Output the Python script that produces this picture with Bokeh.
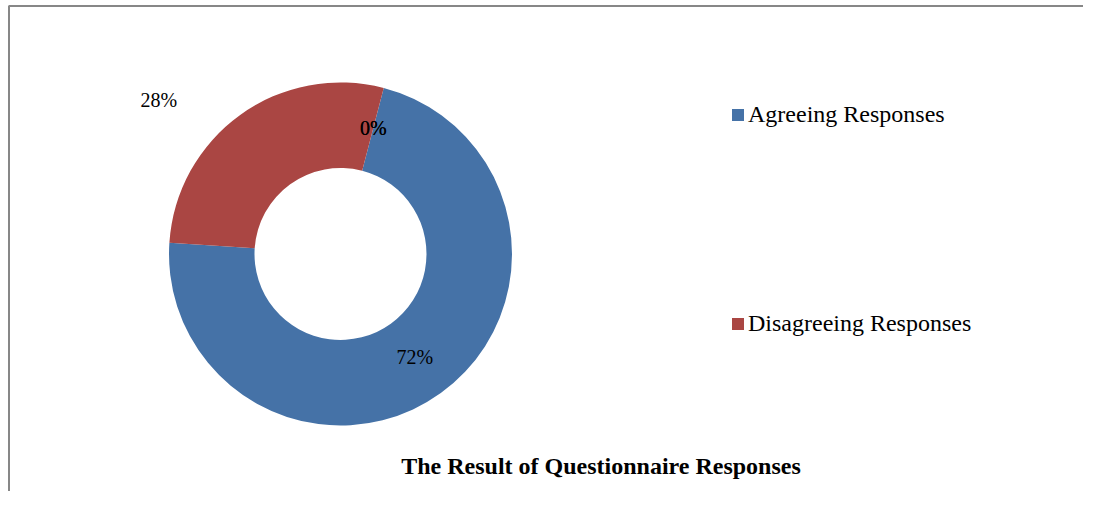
import math
from bokeh.plotting import figure
from bokeh.models import Range1d, Label, Legend, LegendItem, ColumnDataSource, BoxAnnotation
from bokeh.core.properties import value
from bokeh.embed import file_html
from bokeh.resources import INLINE

# ---- data ----
categories = ["Agreeing Responses", "Disagreeing Responses", "", ""]
percents = [72, 28, 0, 0]
colors = ["#4572A7", "#AA4643", "#89A54E", "#80699B"]
legend_count = 2
title_text = "The Result of  Questionnaire Responses"

# ---- layout ----
W, H = 1083, 491
CX, CY = 340, 237.5
R_OUT, R_IN = 171.5, 86
START = 14.6  # degrees clockwise from 12 o'clock
label_r = [127, 238, 130, 130]
label_shift = [0, -14, 0, 0]
SERIF = "Liberation Serif"

p = figure(width=W, height=H, x_range=Range1d(0, W), y_range=Range1d(0, H),
           output_backend="svg", toolbar_location=None, min_border=0,
           background_fill_color="white", border_fill_color="white")
p.axis.visible = False
p.xgrid.visible = False
p.ygrid.visible = False
p.outline_line_color = None

total = sum(percents)
acc = 0
rows = dict(lx=[], ly=[], text=[])
for i, v in enumerate(percents):
    a0 = START + 360.0 * acc / total
    acc += v
    a1 = START + 360.0 * acc / total
    am = (a0 + a1) / 2 + label_shift[i]
    rows["lx"].append(CX + label_r[i] * math.sin(math.radians(am)))
    rows["ly"].append(CY + label_r[i] * math.cos(math.radians(am)))
    rows["text"].append(f"{v}%")
    if v > 0:
        p.annular_wedge(x=CX, y=CY, inner_radius=R_IN, outer_radius=R_OUT,
                        start_angle=math.radians(90 - a0), end_angle=math.radians(90 - a1),
                        direction="clock", fill_color=colors[i], line_color=None)

p.text(x="lx", y="ly", text="text", source=ColumnDataSource(rows),
       text_font=value(SERIF), text_font_size="20px", text_color="black",
       text_align="center", text_baseline="middle")

# legend proxies (off-screen)
items = []
for i in range(legend_count):
    r = p.quad(left=[-60], right=[-50], bottom=[-60], top=[-50], fill_color=colors[i], line_color=None)
    items.append(LegendItem(label=categories[i], renderers=[r]))

legend = Legend(items=items, location=(730, 154), orientation="vertical",
                glyph_width=15, glyph_height=15, label_standoff=3, spacing=182,
                padding=0, margin=0, border_line_color=None, background_fill_alpha=0,
                label_text_font=SERIF, label_text_font_size="24px", label_text_color="black")
p.add_layout(legend, "center")

p.add_layout(Label(x=603.5, y=26, text=title_text, text_align="center", text_baseline="middle",
                   text_font=SERIF, text_font_style="bold", text_font_size="24px", text_color="black"))

# chart-area frame: left and top edges (right/bottom fall outside the view)
p.add_layout(BoxAnnotation(left=8.5, right=W + 20, bottom=-20, top=H - 5.5,
                           fill_alpha=0, line_color="#878787", line_alpha=1.0, line_width=2))

open("out.html", "w").write(file_html(p, INLINE))
